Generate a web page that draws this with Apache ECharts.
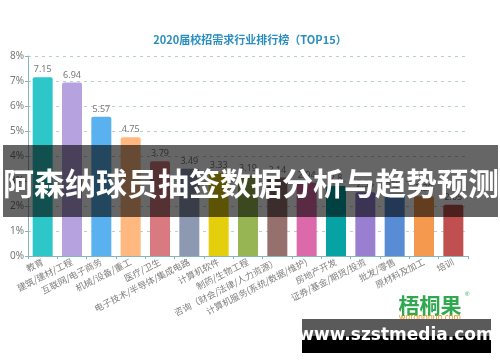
<!DOCTYPE html>
<html><head><meta charset="utf-8">
<script src="https://cdn.jsdelivr.net/npm/echarts@6/dist/echarts.min.js"></script>
<style>html,body{margin:0;padding:0;background:#fff;}#c{width:500px;height:362px;}</style>
</head><body><div id="c"></div>
<script>
const categories = ['教育','建筑/建材/工程','互联网/电子商务','机械/设备/重工','医疗/卫生','电子技术/半导体/集成电路','计算机软件','制药/生物工程','咨询（财会/法律/人力资源）','计算机服务(系统/数据/维护)','房地产开发','证券/基金/期货/投资','批发/零售','原材料及加工','培训'];
const values = [7.15, 6.94, 5.57, 4.75, 3.79, 3.49, 3.33, 3.19, 3.14, 2.94, 2.8, 2.55, 2.49, 2.39, 2.05];
const barColors = ['#2ec7c9','#b6a2de','#5ab1ef','#ffb980','#d87a80','#8d98b3','#e5cf0d','#97b552','#95706d','#dc69aa','#07a2a4','#9a7fd1','#588dd5','#f5994e','#c05050'];
const yTicks = [0, 1, 2, 3, 4, 5, 6, 7, 8];
const titleText = '2020届校招需求行业排行榜（TOP15）';
const bannerText = '阿森纳球员抽签数据分析与趋势预测';
const siteText = 'www.szstmedia.com';

const chart = echarts.init(document.getElementById('c'));
chart.setOption({
  animation: false,
  title: {text: titleText, left: 'center', top: 29, textStyle: {color: '#2a8fc0', fontSize: 11, fontWeight: 'bold', fontFamily: 'Noto Sans CJK SC'}},
  grid: {left: 28, right: 32, top: 56, bottom: 106},
  xAxis: {
    type: 'category', data: categories,
    axisLine: {lineStyle: {color: '#7fb8bd', width: 1}},
    axisTick: {show: true, length: 3, lineStyle: {color: '#7fb8bd'}},
    axisLabel: {rotate: 27, interval: 0, color: '#808080', fontSize: 9, margin: 5, fontFamily: 'Noto Sans CJK SC'}
  },
  yAxis: {
    type: 'value', min: 0, max: yTicks[yTicks.length-1], interval: 1,
    axisLine: {show: true, lineStyle: {color: '#7fb8bd'}},
    axisTick: {show: true, length: 3, lineStyle: {color: '#7fb8bd'}},
    axisLabel: {formatter: '{value}%', color: '#777', fontSize: 10, margin: 4, fontFamily: 'Noto Sans'},
    splitLine: {lineStyle: {type: [3, 4], color: '#b9cfd2'}}
  },
  series: [{
    type: 'bar', barWidth: 20,
    data: values.map((v, i) => ({value: v, itemStyle: {color: barColors[i], borderRadius: [2, 2, 0, 0]}})),
    label: {show: true, position: 'top', color: '#777', fontSize: 9, distance: 3, fontFamily: 'Noto Sans'}
  }],
  graphic: [
    {type: 'rect', shape: {x: 3, y: 145, width: 495, height: 72}, style: {fill: 'rgba(0,0,0,0.6)'}, z: 100},
    {type: 'text', x: 251, y: 183, style: {text: bannerText, fill: '#fff', font: 'bold 31px "Noto Sans CJK SC"', textAlign: 'center', textVerticalAlign: 'middle'}, z: 101},
    {type: 'text', x: 430, y: 305, style: {text: '梧桐果', fill: '#2fa84f', font: 'bold 21px "Noto Sans CJK SC"', textAlign: 'center', textVerticalAlign: 'middle'}, z: 100},
    {type: 'text', x: 465, y: 294, style: {text: '®', fill: '#2fa84f', font: '6px sans-serif', textAlign: 'left', textVerticalAlign: 'middle'}, z: 100},
    {type: 'text', x: 430, y: 318, style: {text: 'wutongguo.com', fill: '#e8920f', font: '8px "Noto Sans"', textAlign: 'center', textVerticalAlign: 'middle'}, z: 100},
    {type: 'rect', shape: {x: 302, y: 319, width: 189, height: 17}, style: {fill: '#5a5a5a'}, z: 102},
    {type: 'rect', shape: {x: 302, y: 336, width: 189, height: 17}, style: {fill: '#000'}, z: 102},
    {type: 'text', x: 396, y: 336, style: {text: siteText, fill: '#fff', font: 'bold 17px "DejaVu Sans"', textAlign: 'center', textVerticalAlign: 'middle'}, z: 103}
  ]
});
</script></body></html>
